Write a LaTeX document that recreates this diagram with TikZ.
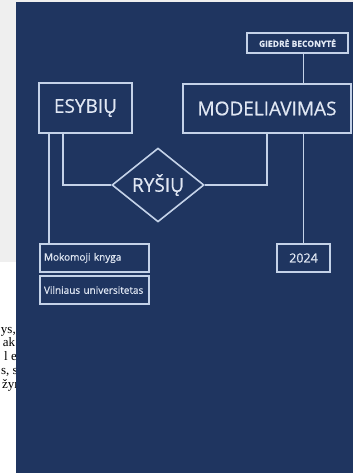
\documentclass[tikz,border=0pt]{standalone}
\usepackage{fontspec}
\setmainfont{Open Sans}[FakeBold=0.6]
\newfontfamily\knygosraidos{Liberation Serif}
\usepackage{tikz}
\usetikzlibrary{positioning,shapes.geometric}
\usepackage{xcolor}
\definecolor{virselis}{RGB}{31,53,96}
\definecolor{linija}{RGB}{196,210,232}
\definecolor{raides}{RGB}{224,231,243}
\definecolor{pilkas}{RGB}{239,239,239}

\begin{document}
\begin{tikzpicture}[x=1pt,y=-1pt,
  dezute/.style={draw=linija,line width=1.6pt,text=raides,inner sep=0pt},
  didele/.style={font=\fontsize{19}{22}\selectfont},
  eilute/.style={dezute,minimum height=28pt,inner xsep=4pt,text width=101pt,align=left,font=\fontsize{10}{12}\selectfont},
  jungtis/.style={draw=linija,line width=1.5pt},
  skeveldra/.style={anchor=east,inner sep=0pt,text height=8pt,text depth=2pt,font=\knygosraidos\fontsize{13}{15}\selectfont}]
\useasboundingbox (0,0) rectangle (353,473);

% puslapis po virseliu
\fill [pilkas] (0,0) rectangle (353,262);
\fill [white] (0,262) rectangle (353,473);
\node [skeveldra] (t1) at (16,330) {ys,};
\node [skeveldra] (t2) at (19,343.5) {ak:};
\node [skeveldra] (t3) at (17,357) {l e};
\node [skeveldra] (t4) at (18,371) {s, s};
\node [skeveldra] (t5) at (21,385) {žyn};

% virselis
\fill [virselis] (16,2) rectangle (353,473);

\node [dezute,didele,minimum width=93pt,minimum height=50pt] (esybiu) at (85.5,108) {ESYBIŲ};
\node [dezute,didele,minimum width=168pt,minimum height=49pt] (modeliavimas) at (267,108.5) {MODELIAVIMAS};
\node [dezute,minimum width=101pt,minimum height=20pt,font=\fontsize{8.5}{10}\selectfont\bfseries] (autorius) at (297.5,43) {GIEDRĖ BECONYTĖ};
\node [dezute,didele,diamond,minimum width=92pt,minimum height=66pt] (rysiu) at (158,185) {RYŠIŲ};
\node [dezute,minimum width=53pt,minimum height=28pt,font=\fontsize{12.5}{14}\selectfont] (metai) at (303.5,258) {2024};
\node [eilute] (knyga) at (94.5,258) {Mokomoji knyga};
\node [eilute] (universitetas) at (94.5,290) {Vilniaus universitetas};

\coordinate (kaire) at ([xshift=11pt]esybiu.south west);
\coordinate (desine) at ([xshift=25pt]esybiu.south west);

\draw [jungtis] (autorius.south -| metai) -- (modeliavimas.north -| metai);
\draw [jungtis] (modeliavimas.south -| metai) -- (metai.north);
\draw [jungtis] (rysiu.east) -| (modeliavimas.south);
\draw [jungtis] (desine) |- (rysiu.west);
\draw [jungtis] (kaire) -- (kaire |- knyga.north);
\end{tikzpicture}
\end{document}
